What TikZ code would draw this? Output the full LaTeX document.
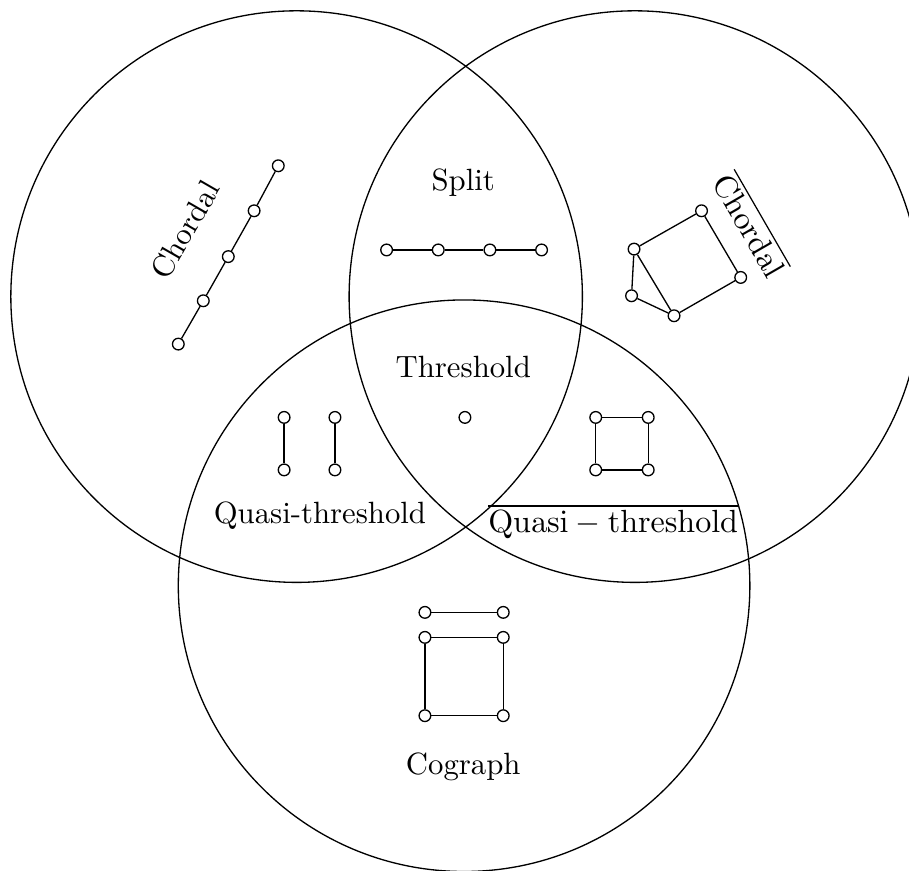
\documentclass[tikz,border=0pt]{standalone}
\usepackage{amsmath,amssymb,amsfonts}
\usepackage{tikz}
\tikzset{vertex/.style={draw, circle, fill=white, inner sep=0pt, minimum size=0.14cm}}

\begin{document}
\begin{tikzpicture}[line width=0.45pt, font=\fontsize{10.5pt}{12.6pt}\selectfont]
\useasboundingbox (0,0) rectangle (10.91,10.45);
\draw (3.56,6.89) circle (3.43);
\draw (7.62,6.89) circle (3.43);
\draw (5.57,3.42) circle (3.43);
% chordal
\node[rotate=60] (chordal) at (2.22,7.69) {Chordal};
\node[vertex] (c1) at (3.34,8.46) {};
\node[vertex] (c2) at (3.05,7.92) {};
\node[vertex] (c3) at (2.74,7.37) {};
\node[vertex] (c4) at (2.44,6.84) {};
\node[vertex] (c5) at (2.14,6.32) {};
\draw (c1) -- (c2) -- (c3) -- (c4) -- (c5);
% co-chordal
\node[rotate=-60] (cochordal) at (9.02,7.76) {$\overline{\mathrm{Chordal}}$};
\node[vertex] (d1) at (8.42,7.92) {};
\node[vertex] (d2) at (7.61,7.46) {};
\node[vertex] (d3) at (7.58,6.90) {};
\node[vertex] (d4) at (8.09,6.66) {};
\node[vertex] (d5) at (8.89,7.12) {};
\draw (d1) -- (d2) -- (d3) -- (d4) -- (d5) -- (d1);
\draw (d2) -- (d4);
% split
\node (split) at (5.56,8.26) {Split};
\node[vertex] (s1) at (4.64,7.45) {};
\node[vertex] (s2) at (5.26,7.45) {};
\node[vertex] (s3) at (5.88,7.45) {};
\node[vertex] (s4) at (6.50,7.45) {};
\draw (s1) -- (s2) -- (s3) -- (s4);
% threshold
\node (threshold) at (5.56,6.04) {Threshold};
\node[vertex] (t1) at (5.58,5.44) {};
% quasi-threshold
\node (quasi) at (3.84,4.26) {Quasi-threshold};
\node[vertex] (q1) at (3.41,5.44) {};
\node[vertex] (q2) at (3.41,4.81) {};
\node[vertex] (q3) at (4.02,5.44) {};
\node[vertex] (q4) at (4.02,4.81) {};
\draw (q1) -- (q2);
\draw (q3) -- (q4);
% co-quasi-threshold
\node (coquasi) at (7.36,4.19) {$\overline{\mathrm{Quasi}-\mathrm{threshold}}$};
\node[vertex] (p1) at (7.15,5.44) {};
\node[vertex] (p2) at (7.78,5.44) {};
\node[vertex] (p3) at (7.78,4.81) {};
\node[vertex] (p4) at (7.15,4.81) {};
\draw (p1) -- (p2) -- (p3) -- (p4) -- (p1);
% cograph
\node (cograph) at (5.56,1.25) {Cograph};
\node[vertex] (g1) at (5.10,3.10) {};
\node[vertex] (g2) at (6.04,3.10) {};
\node[vertex] (g3) at (5.10,2.80) {};
\node[vertex] (g4) at (6.04,2.80) {};
\node[vertex] (g5) at (6.04,1.86) {};
\node[vertex] (g6) at (5.10,1.86) {};
\draw (g1) -- (g2);
\draw (g3) -- (g4) -- (g5) -- (g6) -- (g3);
\end{tikzpicture}
\end{document}
